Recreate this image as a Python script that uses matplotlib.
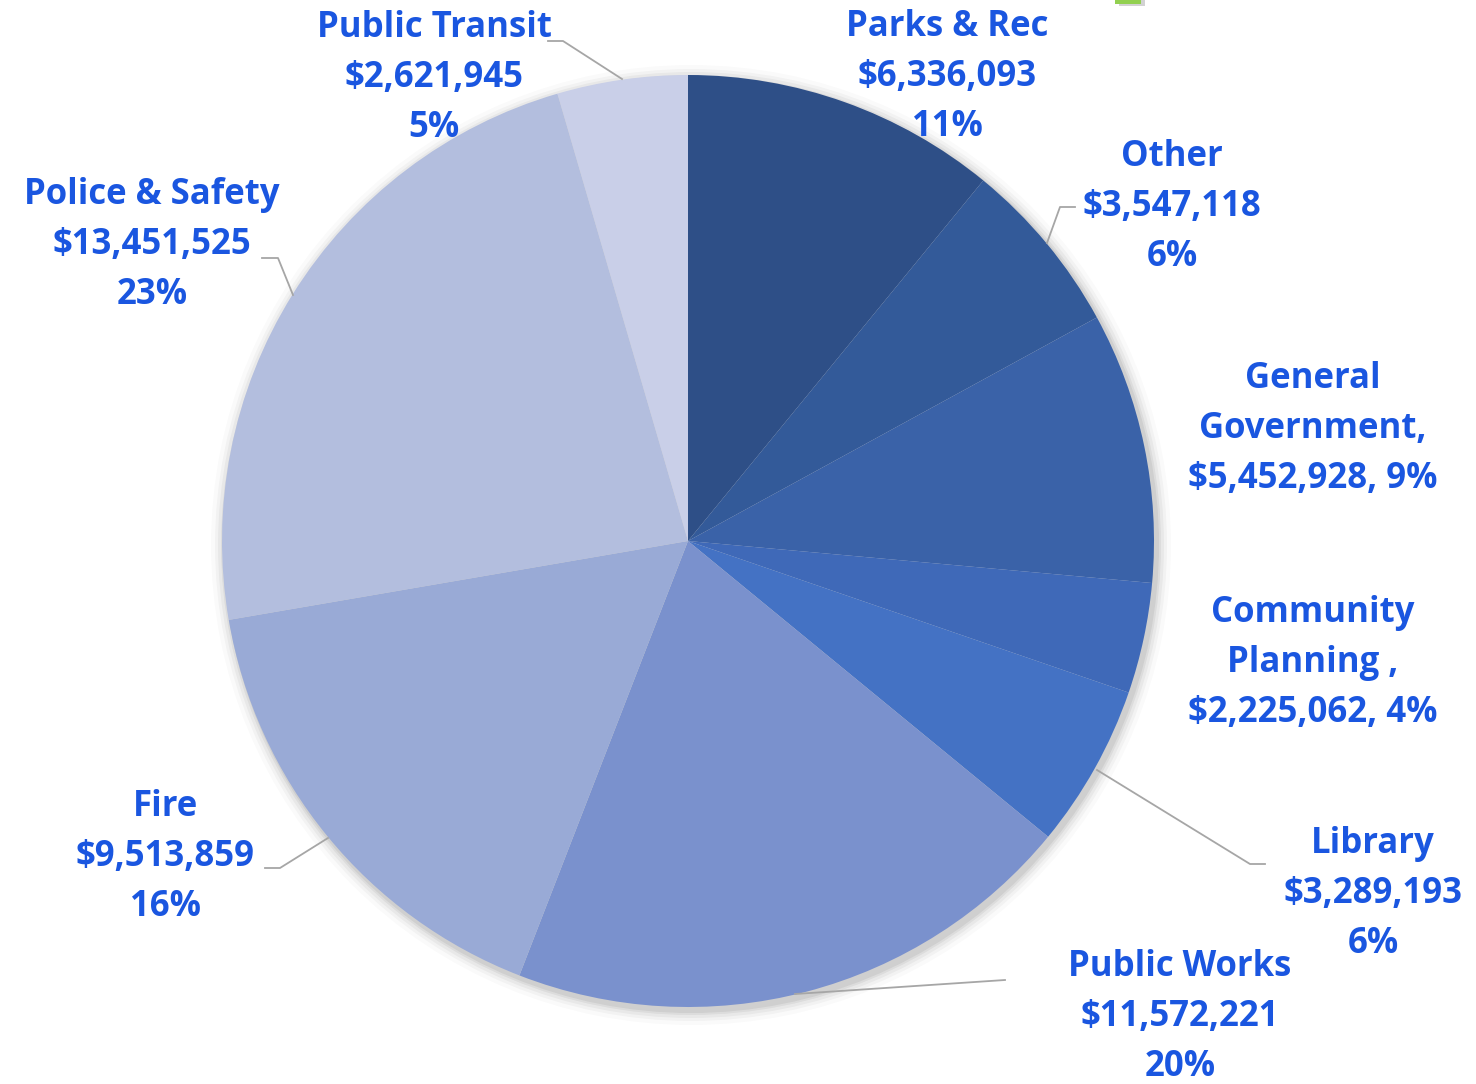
import matplotlib
matplotlib.use("Agg")
import matplotlib.pyplot as plt
from matplotlib.patches import Circle, Rectangle

# ---- data ----
categories = ["Parks & Rec", "Other", "General Government", "Community Planning",
              "Library", "Public Works", "Fire", "Police & Safety", "Public Transit"]
values = [6336093, 3547118, 5452928, 2225062, 3289193, 11572221, 9513859, 13451525, 2621945]
colors = ["#2E4F87", "#335A99", "#3A62A8", "#3F69B8", "#4472C4",
          "#7A91CD", "#99AAD6", "#B3BEDE", "#C9CFE8"]

total = sum(values)
pcts = [round(v / total * 100) for v in values]

def money(v):
    return "${:,}".format(v)

label_texts = [
    f"Parks & Rec\n{money(values[0])}\n{pcts[0]}%",
    f"Other\n{money(values[1])}\n{pcts[1]}%",
    f"General\nGovernment,\n{money(values[2])}, {pcts[2]}%",
    f"Community\nPlanning ,\n{money(values[3])}, {pcts[3]}%",
    f"Library\n{money(values[4])}\n{pcts[4]}%",
    f"Public Works\n{money(values[5])}\n{pcts[5]}%",
    f"Fire\n{money(values[6])}\n{pcts[6]}%",
    f"Police & Safety\n{money(values[7])}\n{pcts[7]}%",
    f"Public Transit\n{money(values[8])}\n{pcts[8]}%",
]

# ---- layout (pixel coordinates, y measured from top) ----
W, H = 1476, 1084
cx, cy, R = 688, 541, 466
label_pos = [(947, 77), (1172, 207), (1313, 429), (1313, 663), (1373, 894),
             (1180, 1017), (165, 857), (152, 245), (434, 78)]
leaders = {
    1: [(1075, 207), (1060, 207), (1047, 243)],
    4: [(1265, 864), (1250, 864), (1097, 770)],
    5: [(1005, 980), (795, 994)],
    6: [(265, 868), (280, 868), (328, 838)],
    7: [(262, 258), (278, 258), (293, 295)],
    8: [(548, 41), (563, 41), (622, 79)],
}

fig = plt.figure(figsize=(W / 100, H / 100), dpi=100)
ax = fig.add_axes([0, 0, 1, 1])

# soft shadow
for dr, a in [(14, 0.02), (10, 0.03), (7, 0.04), (4, 0.05), (2, 0.06)]:
    ax.add_patch(Circle((cx + 3, H - cy - 4), R + dr, color="black", alpha=a, lw=0, zorder=0))

ax.pie(values, colors=colors, startangle=90, counterclock=False,
       center=(cx, H - cy), radius=R, wedgeprops=dict(linewidth=0),
       frame=False)

for i, pts in leaders.items():
    xs = [p[0] for p in pts]
    ys = [H - p[1] for p in pts]
    ax.plot(xs, ys, color="#A6A6A6", lw=1.3, zorder=5)

for txt, (x, y) in zip(label_texts, label_pos):
    ax.text(x, H - y, txt, ha="center", va="center", fontsize=25,
            fontweight="bold", color="#1A56E0", family="Open Sans",
            linespacing=1.52, zorder=6)

# small green marker at top (clipped legend glyph)
ax.add_patch(Rectangle((1119, H - 6), 26, 10, color="#7F7F7F", alpha=0.35, lw=0, zorder=3))
ax.add_patch(Rectangle((1115, H - 4), 26, 10, color="#92D050", lw=0, zorder=4))

ax.set_xlim(0, W)
ax.set_ylim(0, H)
ax.set_aspect("equal")
ax.axis("off")
fig.savefig("out.png", dpi=100)
